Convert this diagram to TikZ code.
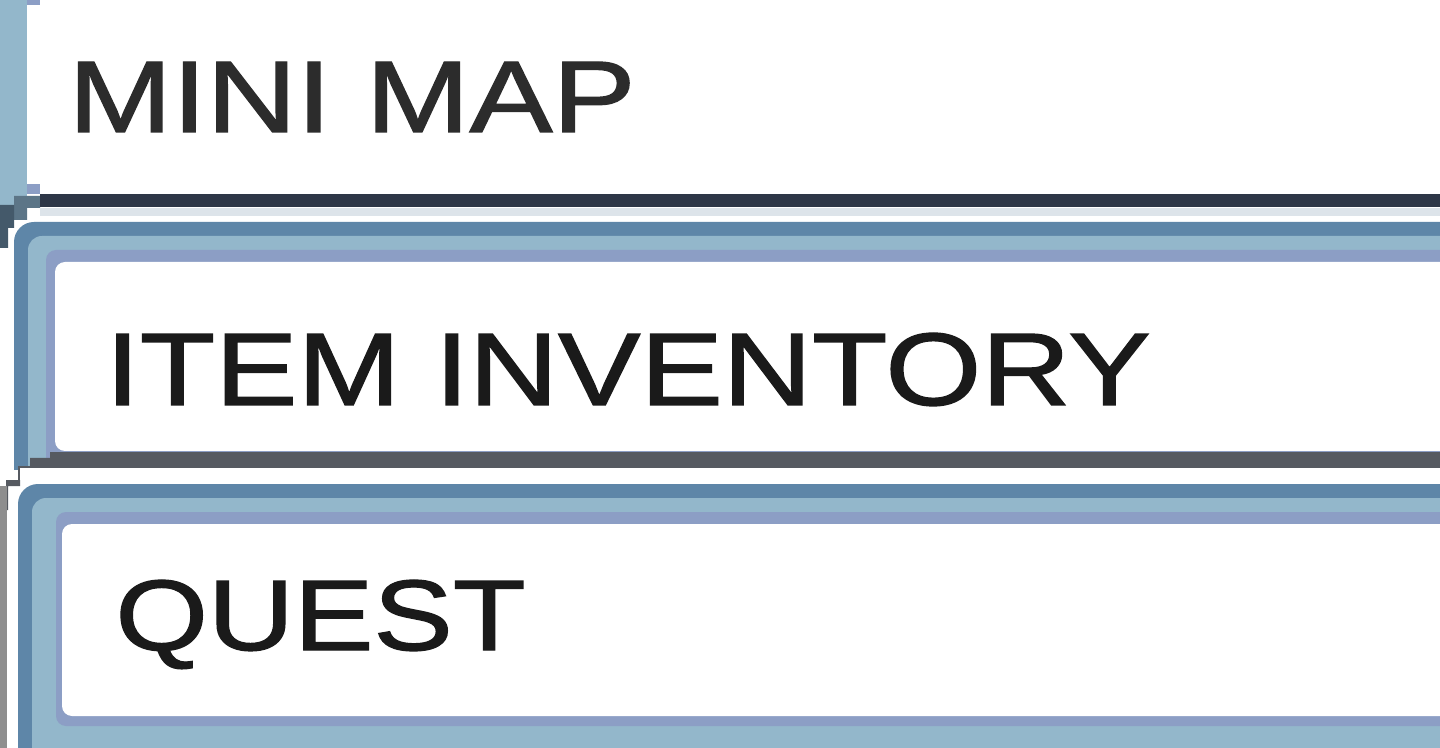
\documentclass[tikz,border=0pt]{standalone}
\usepackage{fontspec}
\setmainfont{Liberation Sans}
\newfontfamily\labelfont[FakeBold=1.2]{Liberation Sans}
\usepackage{graphicx}
\definecolor{lblue}{HTML}{93B7CB}
\definecolor{dblue}{HTML}{5E86A8}
\definecolor{lav}{HTML}{8C9EC5}
\definecolor{navy}{HTML}{2E3747}
\definecolor{slate}{HTML}{44596A}
\definecolor{dgray}{HTML}{565A61}
\definecolor{mgray}{HTML}{8E8E8E}
\definecolor{pale}{HTML}{DDE4EA}
\definecolor{ink}{HTML}{1A1A1A}
\definecolor{ink2}{HTML}{2C2C2C}
\tikzset{
  label text/.style={inner sep=0pt, anchor=base west, font=\labelfont},
}
\begin{document}
\begin{tikzpicture}[x=0.5pt,y=-0.5pt]
\useasboundingbox (0,0) rectangle (1440,748);
\clip (0,0) rectangle (1440,748);
\fill[white] (0,0) rectangle (1440,748);
% ---------- panel 1 : mini map ----------
\fill[lblue] (0,-10) rectangle (27,215);
\fill[lav] (27,0) rectangle (40,5);
\fill[lav] (27,184) rectangle (40,194);
% dark shading at the bottom of the left bar
\fill[slate!70!lblue] (14,196) -- (40,196) -- (40,208) -- (27,208) -- (27,220) -- (14,220) -- cycle;
\fill[slate] (0,205) -- (14,205) -- (14,228) -- (8,228) -- (8,248) -- (0,248) -- cycle;
\fill[navy] (40,194) rectangle (1440,207);
\fill[pale] (40,208) rectangle (1440,216);
% ---------- panel 2 : item inventory ----------
\fill[dblue, rounded corners=10pt] (14,470) |- (1500,222) |- cycle;
\fill[dblue] (14,400) rectangle (40,470);
\fill[lblue, rounded corners=7pt] (28,470) |- (1500,236) |- cycle;
\fill[lblue] (28,400) rectangle (50,470);
\fill[lav, rounded corners=5pt] (46,470) |- (1500,250) |- cycle;
\fill[white, rounded corners=5pt] (55,262) rectangle (1500,451);
\fill[dgray] (50,452) rectangle (1440,468);
\fill[dgray] (30,458) -- (50,458) -- (50,474) -- (20,474) -- (20,486) -- (8,486) -- (8,510) -- (0,510) -- (0,496) -- (6,496) -- (6,480) -- (18,480) -- (18,466) -- (30,466) -- cycle;
\fill[white] (20,468) rectangle (1440,480);
\fill[white] (0,468) rectangle (6,480);
% ---------- panel 3 : quest ----------
\fill[mgray] (0,486) rectangle (7,748);
\fill[dblue, rounded corners=10pt] (18,484) rectangle (1500,800);
\fill[lblue, rounded corners=7pt] (32,498) rectangle (1500,800);
\fill[lav, rounded corners=5pt] (56,512) rectangle (1500,726);
\fill[white, rounded corners=5pt] (62,524) rectangle (1500,716);
% ---------- labels ----------
\node[label text, text=ink2] (minimap) at (68,132)
  {\resizebox{283.5pt}{35pt}{MINI MAP}};
\node[label text, text=ink] (inventory) at (105,405)
  {\resizebox{522.5pt}{36pt}{ITEM INVENTORY}};
\node[label text, text=ink] (quest) at (115,650)
  {\resizebox{205pt}{35pt}{QUEST}};
\end{tikzpicture}
\end{document}
